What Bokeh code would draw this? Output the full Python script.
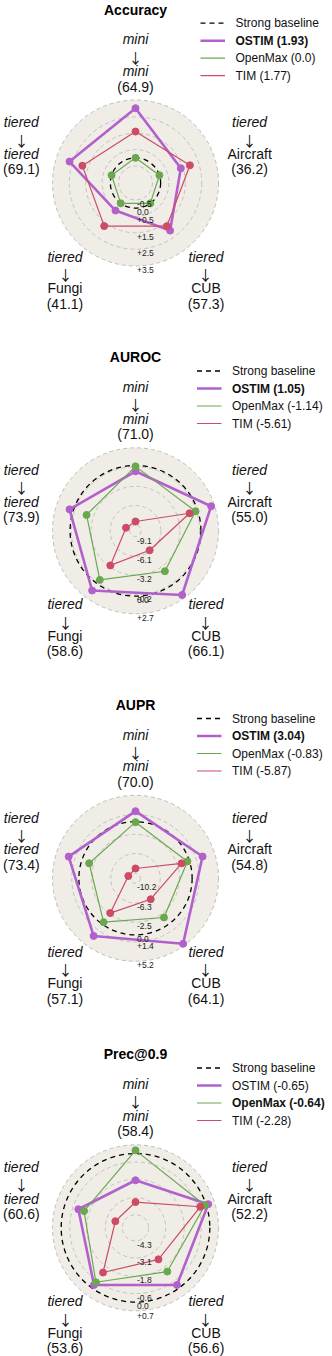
import numpy as np
from bokeh.plotting import figure
from bokeh.models import Range1d
from bokeh.core.properties import value
from bokeh.embed import file_html
from bokeh.resources import INLINE

# ---------------- data ----------------
METRICS = ["Accuracy", "AUROC", "AUPR", "Prec@0.9"]
METHODS = ["OSTIM", "OpenMax", "TIM"]
# axes (clockwise from top): source -> target
AX_SRC = ["mini", "tiered", "tiered", "tiered", "tiered"]
AX_TGT = ["mini", "Aircraft", "CUB", "Fungi", "tiered"]

# strong-baseline absolute values shown under each axis label
ACC_BASE = [64.9, 36.2, 57.3, 41.1, 69.1]
AUROC_BASE = [71.0, 55.0, 66.1, 58.6, 73.9]
AUPR_BASE = [70.0, 54.8, 64.1, 57.1, 73.4]
PREC_BASE = [58.4, 52.2, 56.6, 53.6, 60.6]

# differences to the strong baseline (order = AX_TGT)
ACC_OSTIM = [3.02, 1.37, 2.05, 0.54, 2.69]
ACC_OPENMAX = [0.0, 0.0, 0.0, 0.0, 0.0]
ACC_TIM = [1.60, 1.95, 1.72, 1.71, 1.87]

AUROC_OSTIM = [-0.90, 2.15, 2.12, 1.28, 0.60]
AUROC_OPENMAX = [-0.15, -0.35, -2.35, -0.72, -2.13]
AUROC_TIM = [-8.55, -1.30, -6.30, -3.45, -8.45]

AUPR_OSTIM = [2.07, 2.74, 4.81, 2.89, 2.69]
AUPR_OPENMAX = [-0.10, -0.40, -1.62, -0.47, -1.56]
AUPR_TIM = [-9.25, -1.62, -6.08, -2.70, -9.70]

PREC_OSTIM = [-1.88, 0.15, -0.26, -0.26, -1.00]
PREC_OPENMAX = [0.22, -0.09, -1.42, -0.49, -1.42]
PREC_TIM = [-3.41, -0.44, -2.48, -1.34, -3.73]

# legend averages
ACC_AVG = [1.93, 0.0, 1.77]
AUROC_AVG = [1.05, -1.14, -5.61]
AUPR_AVG = [3.04, -0.83, -5.87]
PREC_AVG = [-0.65, -0.64, -2.28]

# radial ticks and radial limits (centre, outer edge)
ACC_TICKS = [-0.5, 0.5, 1.5, 2.5, 3.5]
AUROC_TICKS = [-9.1, -6.1, -3.2, -0.2, 2.7]
AUPR_TICKS = [-10.2, -6.3, -2.5, 1.4, 5.2]
PREC_TICKS = [-4.3, -3.1, -1.8, -0.6, 0.7]
ACC_LIM = [-1.53, 3.52]
AUROC_LIM = [-9.97, 2.68]
AUPR_LIM = [-11.19, 5.21]
PREC_LIM = [-5.22, 0.61]

panels = [
    (ACC_BASE, [ACC_OSTIM, ACC_OPENMAX, ACC_TIM], ACC_AVG, ACC_TICKS, ACC_LIM),
    (AUROC_BASE, [AUROC_OSTIM, AUROC_OPENMAX, AUROC_TIM], AUROC_AVG, AUROC_TICKS, AUROC_LIM),
    (AUPR_BASE, [AUPR_OSTIM, AUPR_OPENMAX, AUPR_TIM], AUPR_AVG, AUPR_TICKS, AUPR_LIM),
    (PREC_BASE, [PREC_OSTIM, PREC_OPENMAX, PREC_TIM], PREC_AVG, PREC_TICKS, PREC_LIM),
]

# ---------------- style / layout ----------------
FONT = value("Liberation Sans")
ARROW_FONT = value("Noto Sans CJK JP")
COLORS = ["#b160cc", "#6aa84f", "#cd4b64"]
WIDTHS = [2.6, 1.2, 1.2]
DISC = "#f0ede7"
CX = 135.0
CYS = [182.5, 530.3, 877.8, 1227.3]
R = 83.0
LEG_X = [200.0, 196.5, 196.5, 196.5]
W, H = 332, 1356

p = figure(width=W, height=H, x_range=Range1d(0, W), y_range=Range1d(H, 0),
           output_backend="svg", toolbar_location=None, min_border=0,
           x_axis_type=None, y_axis_type=None)
p.grid.visible = False
p.outline_line_color = None

ang = np.deg2rad(90 - 72 * np.arange(5))

for i, (base, series, avgs, ticks, lim) in enumerate(panels):
    cy = CYS[i]
    lo, hi = lim

    def rad(v):
        return R * (np.asarray(v, dtype=float) - lo) / (hi - lo)

    # disc + rings
    p.circle(x=[CX], y=[cy], radius=R, fill_color=DISC, line_color="#bdbdbd",
             line_dash="4 3", line_width=1)
    rings = [t for t in ticks if rad(t) < R - 1.5]
    p.circle(x=[CX] * len(rings), y=[cy] * len(rings), radius=list(rad(rings)),
             fill_color=None, line_color="#c2c2c2", line_dash="4 3", line_width=1)
    # strong baseline
    p.circle(x=[CX], y=[cy], radius=float(rad(0.0)), fill_color=None,
             line_color="black", line_dash="5 4", line_width=1.3)

    # series
    for k, vals in enumerate(series):
        r = rad(vals)
        xs = CX + r * np.cos(ang)
        ys = cy - r * np.sin(ang)
        p.line(list(xs) + [xs[0]], list(ys) + [ys[0]], line_color=COLORS[k],
               line_width=WIDTHS[k], line_join="round")
        p.scatter(xs, ys, size=7, marker="circle", fill_color=COLORS[k],
                  line_color=COLORS[k])

    # radial tick labels
    tv = list(ticks) + [0.0]
    tl = [("0.0" if t == 0 else ("%+.1f" % t)) for t in tv]
    p.text(x=[CX + 1.5] * len(tv), y=list(cy + rad(tv) + 4.0), text=tl,
           text_font=FONT, text_font_size=value("8.5px"), text_align="left",
           text_baseline="middle", text_color="#222222")

    # axis labels
    it_x, it_y, it_t, nm_x, nm_y, nm_t, ar_x, ar_y = [], [], [], [], [], [], [], []
    for k in range(5):
        bx = CX + 120 * np.cos(ang[k])
        by = cy - 120 * np.sin(ang[k])
        lines = [AX_SRC[k], "\u2193", AX_TGT[k], "(%.1f)" % base[k]]
        kinds = ["it", "ar", "it" if AX_TGT[k] in ("mini", "tiered") else "nm", "nm"]
        for j, (t, kd) in enumerate(zip(lines, kinds)):
            yy = by + (j - 1.5) * 15.7
            if kd == "it":
                it_x.append(bx); it_y.append(yy); it_t.append(t)
            elif kd == "nm":
                nm_x.append(bx); nm_y.append(yy); nm_t.append(t)
            else:
                # snap thin arrow stem to the pixel grid
                ar_x.append(float(2 * round((bx - 1) / 2) + 1))
                ar_y.append(float(round(yy + 1)))
    p.text(x=it_x, y=it_y, text=it_t, text_font=FONT, text_font_size=value("14px"),
           text_font_style="italic", text_align="center", text_baseline="middle",
           text_color="#111111")
    p.text(x=nm_x, y=nm_y, text=nm_t, text_font=FONT, text_font_size=value("14px"),
           text_align="center", text_baseline="middle", text_color="#111111")
    p.text(x=ar_x, y=ar_y, text=["\u2193"] * len(ar_x), text_font=ARROW_FONT,
           text_font_size=value("14px"), text_align="center", text_baseline="middle",
           text_color="#111111")

    # title
    p.text(x=[CX], y=[cy - 173.5], text=[METRICS[i]], text_font=FONT,
           text_font_size=value("14px"), text_font_style="bold", text_align="center",
           text_baseline="middle", text_color="black")

    # legend
    lx = LEG_X[i]
    best = int(np.argmax(avgs))
    entries = [("Strong baseline", "black", 1.3, "5 4", "normal")]
    for k, m in enumerate(METHODS):
        entries.append(("%s (%s)" % (m, avgs[k]), COLORS[k], WIDTHS[k], "solid",
                        "bold" if k == best else "normal"))
    for j, (lab, col, lw, dash, fs) in enumerate(entries):
        yy = cy - 159.8 + 17.5 * j
        p.line([lx, lx + 24.5], [yy, yy], line_color=col, line_width=lw, line_dash=dash)
        p.text(x=[lx + 35], y=[yy], text=[lab], text_font=FONT,
               text_font_size=value("12px"), text_font_style=fs, text_align="left",
               text_baseline="middle", text_color="#111111")

open("out.html", "w").write(file_html(p, INLINE))
